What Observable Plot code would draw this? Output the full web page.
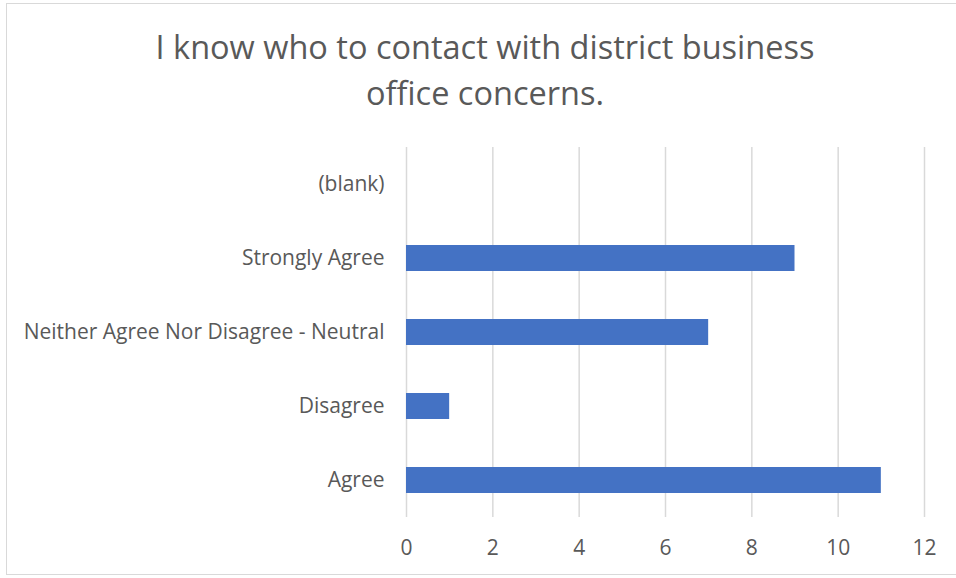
<!DOCTYPE html>
<html>
<head>
<meta charset="utf-8">
<script src="https://cdn.jsdelivr.net/npm/d3@7"></script>
<script src="https://cdn.jsdelivr.net/npm/@observablehq/plot@0.6"></script>
<style>
  html, body { margin: 0; padding: 0; background: #fff; }
  #wrap { position: relative; width: 956px; height: 578px; overflow: hidden; font-family: "Open Sans", sans-serif; }
  #frame { position: absolute; left: 6px; top: 3px; width: 960px; height: 572px; border: 1px solid #d9d9d9; box-sizing: border-box; }
  #title { position: absolute; left: 0; top: 24px; width: 970px; text-align: center; font-size: 32.5px; line-height: 46px; color: #595959; }
  #chart { position: absolute; left: 0; top: 0; }
</style>
</head>
<body>
<div id="wrap">
  <div id="frame"></div>
  <div id="chart"></div>
  <div id="title">I know who to contact with district business<br>office concerns.</div>
</div>
<script>
const categories = ["(blank)", "Strongly Agree", "Neither Agree Nor Disagree - Neutral", "Disagree", "Agree"];
const counts = [null, 9, 7, 1, 11];
const xTicks = [0, 2, 4, 6, 8, 10, 12];

const data = categories.map((c, i) => ({category: c, count: counts[i]}));

const chart = Plot.plot({
  width: 956,
  height: 578,
  marginLeft: 406,
  marginRight: 32,
  marginTop: 147,
  marginBottom: 61,
  style: {fontFamily: "Open Sans, sans-serif", fontSize: "21px", color: "#595959", background: "transparent"},
  x: {domain: [0, 12], ticks: xTicks, tickSize: 0, tickPadding: 23, label: null},
  y: {domain: categories, paddingInner: 0.65, paddingOuter: 0.325, tickSize: 0, tickPadding: 22, label: null},
  marks: [
    Plot.gridX(xTicks, {stroke: "#d9d9d9", strokeOpacity: 1, strokeWidth: 1.5}),
    Plot.barX(data.filter(d => d.count != null), {x: "count", y: "category", fill: "#4472C4"})
  ]
});
document.getElementById("chart").appendChild(chart);
</script>
</body>
</html>
